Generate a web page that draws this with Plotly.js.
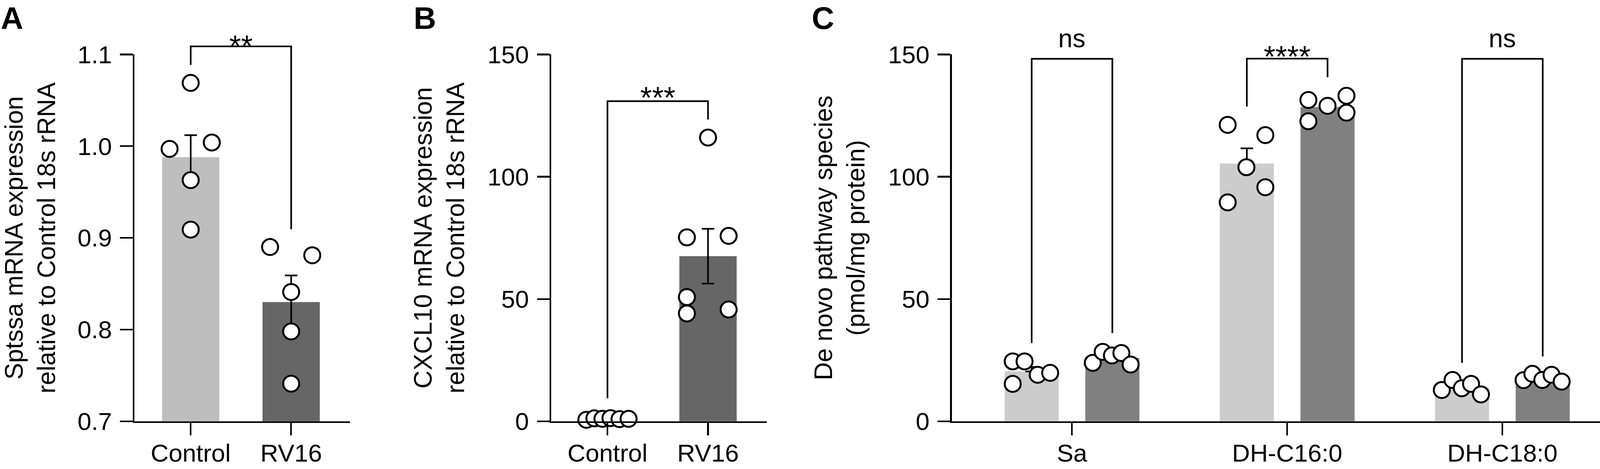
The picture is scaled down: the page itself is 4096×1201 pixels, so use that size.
<!DOCTYPE html>
<html>
<head>
<meta charset="utf-8">
<script src="https://cdn.plot.ly/plotly-3.0.1.min.js"></script>
<style>
  html, body { margin: 0; padding: 0; background: #ffffff; }
  #chart { width: 4096px; height: 1201px; }
</style>
</head>
<body>
<div id="chart"></div>
<script>
// ===================== DATA =====================
// Panel A
const catsA = ['Control', 'RV16'];
const meansA = [0.988, 0.830];
const semsA = [0.024, 0.029];
const dotsA_control = [1.069, 0.997, 1.004, 0.963, 0.909];
const dotsA_rv16 = [0.890, 0.881, 0.841, 0.798, 0.741];
const yTicksA = [0.7, 0.8, 0.9, 1.0, 1.1];
const sigA_text = '**';
const sigA_levels = [1.0886, 1.1088, 0.9094];   // left leg end, bracket, right leg end

// Panel B
const catsB = ['Control', 'RV16'];
const meansB = [1.0, 67.5];
const semsB = [0.1, 11.2];
const dotsB_control = [0.6, 1.2, 1.0, 1.3, 0.9, 1.0];
const dotsB_rv16 = [75.2, 50.8, 44.1, 116.0, 75.8, 45.7];
const yTicksB = [0, 50, 100, 150];
const sigB_text = '***';
const sigB_levels = [9.4, 130.9, 123.4];

// Panel C
const catsC = ['Sa', 'DH-C16:0', 'DH-C18:0'];
const meansC_control = [20.4, 105.4, 13.8];
const semsC_control = [1.8, 6.2, 1.0];
const meansC_rv16 = [25.9, 128.5, 16.5];
const semsC_rv16 = [1.1, 1.9, 0.7];
const dotsC_control = [[24.5, 24.5, 15.3, 19.0, 19.8], [121.2, 117.0, 103.9, 95.7, 89.5], [12.8, 16.9, 13.5, 15.3, 11.0]];
const dotsC_rv16 = [[23.9, 28.4, 26.9, 27.9, 23.2], [131.4, 129.0, 133.1, 122.7, 126.2], [16.8, 19.4, 16.9, 19.0, 16.2]];
const yTicksC = [0, 50, 100, 150];
const sigC_text = ['ns', '****', 'ns'];
const sigC_left = [32.0, 128.7, 23.9];
const sigC_top = [148.2, 148.3, 148.2];
const sigC_right = [36.1, 140.7, 26.5];

// Axis titles
const titleA = 'Sptssa mRNA expression<br>relative to Control 18s rRNA';
const titleB = 'CXCL10 mRNA expression<br>relative to Control 18s rRNA';
const titleC = 'De novo pathway species<br>(pmol/mg protein)';

// ===================== STYLE / GEOMETRY =====================
const S = 0.975, W = 4096, H = 1201;
const LW = 4.2;
const FONT = 'Liberation Sans, Arial, Helvetica, sans-serif';
const TICKFONT = 63.5, TITLEFONT = 64;
const LIGHT_AB = '#bebebe', DARK_AB = '#666666';
const LIGHT_C = '#cccccc', DARK_C = '#808080';

// dot spread within each column (category units)
const jitA_control = [0, -0.21, 0.21, 0, 0];
const jitA_rv16 = [-0.21, 0.21, 0, 0, 0];
const jitB_control = [-0.21, -0.13, -0.05, 0.03, 0.12, 0.21];
const jitB_rv16 = [-0.21, -0.21, -0.21, 0, 0.205, 0.205];
const jitC_control = [[-0.088, -0.033, -0.088, 0.028, 0.086], [-0.089, 0.086, -0.002, 0.086, -0.089], [-0.094, -0.044, -0.001, 0.042, 0.088]];
const jitC_rv16 = [[-0.091, -0.045, -0.002, 0.042, 0.085], [-0.089, 0, 0.088, -0.089, 0.088], [-0.089, -0.048, -0.002, 0.041, 0.088]];
const groupShiftC = 0.1875, barWidthC = 0.2513, barWidthAB = 0.57;

// vertical extent of plot areas (page px)
const yTopPx = 143 * S, yBotPx = 1107.5 * S - 1;
const d0 = (H - yBotPx) / H, d1 = (H - yTopPx) / H;

// horizontal geometry in reference px: left edge, right edge, first category centre, category spacing
const geo = {
  A: {L: 350.5 + 2 / S, R: 919, c0: 500.7, u: 263.8},
  B: {L: 1445.2 + 2 / S, R: 2013.6, c0: 1595, u: 264},
  C: {L: 2497 + 2 / S, R: W / S, c0: 2814.7, u: 565}
};
function xdom(g) { return [g.L * S / W, Math.min(1, g.R * S / W)]; }
function xrng(g) { return [(g.L - g.c0) / g.u, (g.R - g.c0) / g.u]; }
function extRange(lo, hi) { return [lo, lo + (hi - lo) * (1 - d0) / (d1 - d0)]; }

const idx = arr => arr.map((_, i) => i);
const dotMarker = {symbol: 'circle', size: 41, color: '#ffffff', line: {color: '#000000', width: 5}};
const errStyle = {color: '#000000', thickness: LW, width: 16};
const bracketLine = {color: '#000000', width: LW};

const traces = [];

// ---------- Panel A ----------
traces.push({type: 'bar', x: idx(catsA), y: meansA, width: barWidthAB, xaxis: 'x', yaxis: 'y',
  marker: {color: [LIGHT_AB, DARK_AB], line: {width: 0}},
  error_y: Object.assign({type: 'data', array: semsA, visible: true}, errStyle), hoverinfo: 'skip'});
traces.push({type: 'scatter', mode: 'markers', xaxis: 'x', yaxis: 'y', cliponaxis: false,
  x: dotsA_control.map((_, i) => 0 + jitA_control[i]), y: dotsA_control, marker: dotMarker});
traces.push({type: 'scatter', mode: 'markers', xaxis: 'x', yaxis: 'y', cliponaxis: false,
  x: dotsA_rv16.map((_, i) => 1 + jitA_rv16[i]), y: dotsA_rv16, marker: dotMarker});
traces.push({type: 'scatter', mode: 'lines', xaxis: 'x', yaxis: 'y4', x: [0, 0, 1, 1],
  y: [sigA_levels[0], sigA_levels[1], sigA_levels[1], sigA_levels[2]], line: bracketLine, hoverinfo: 'skip'});

// ---------- Panel B ----------
traces.push({type: 'bar', x: idx(catsB), y: meansB, width: barWidthAB, xaxis: 'x2', yaxis: 'y2',
  marker: {color: [LIGHT_AB, DARK_AB], line: {width: 0}},
  error_y: Object.assign({type: 'data', array: semsB, visible: true}, errStyle), hoverinfo: 'skip'});
traces.push({type: 'scatter', mode: 'markers', xaxis: 'x2', yaxis: 'y2', cliponaxis: false,
  x: dotsB_control.map((_, i) => 0 + jitB_control[i]), y: dotsB_control, marker: dotMarker});
traces.push({type: 'scatter', mode: 'markers', xaxis: 'x2', yaxis: 'y2', cliponaxis: false,
  x: dotsB_rv16.map((_, i) => 1 + jitB_rv16[i]), y: dotsB_rv16, marker: dotMarker});
traces.push({type: 'scatter', mode: 'lines', xaxis: 'x2', yaxis: 'y5', x: [0, 0, 1, 1],
  y: [sigB_levels[0], sigB_levels[1], sigB_levels[1], sigB_levels[2]], line: bracketLine, hoverinfo: 'skip'});

// ---------- Panel C ----------
traces.push({type: 'bar', x: idx(catsC), y: meansC_control, width: barWidthC, offset: -groupShiftC - barWidthC / 2,
  xaxis: 'x3', yaxis: 'y3', marker: {color: LIGHT_C, line: {width: 0}},
  error_y: Object.assign({type: 'data', symmetric: false, array: semsC_control, arrayminus: semsC_control.map(() => 0)}, errStyle),
  hoverinfo: 'skip'});
traces.push({type: 'bar', x: idx(catsC), y: meansC_rv16, width: barWidthC, offset: groupShiftC - barWidthC / 2,
  xaxis: 'x3', yaxis: 'y3', marker: {color: DARK_C, line: {width: 0}},
  error_y: Object.assign({type: 'data', symmetric: false, array: semsC_rv16, arrayminus: semsC_rv16.map(() => 0)}, errStyle),
  hoverinfo: 'skip'});
catsC.forEach((c, g) => {
  traces.push({type: 'scatter', mode: 'markers', xaxis: 'x3', yaxis: 'y3', cliponaxis: false,
    x: dotsC_control[g].map((_, i) => g - groupShiftC + jitC_control[g][i]), y: dotsC_control[g], marker: dotMarker});
  traces.push({type: 'scatter', mode: 'markers', xaxis: 'x3', yaxis: 'y3', cliponaxis: false,
    x: dotsC_rv16[g].map((_, i) => g + groupShiftC + jitC_rv16[g][i]), y: dotsC_rv16[g], marker: dotMarker});
  traces.push({type: 'scatter', mode: 'lines', xaxis: 'x3', yaxis: 'y6',
    x: [g - groupShiftC, g - groupShiftC, g + groupShiftC, g + groupShiftC],
    y: [sigC_left[g], sigC_top[g], sigC_top[g], sigC_right[g]], line: bracketLine, hoverinfo: 'skip'});
});

// ---------- axes ----------
const tickFont = {family: FONT, size: TICKFONT, color: '#000000'};
function xAxis(g, cats, anchor) {
  return {domain: xdom(g), range: xrng(g), anchor: anchor, tickmode: 'array', tickvals: idx(cats), ticktext: cats,
    ticks: 'outside', ticklen: 33 * S, tickwidth: LW, tickcolor: '#000', showline: true, linewidth: LW,
    linecolor: '#000', showgrid: false, zeroline: false, tickfont: tickFont, ticklabelstandoff: -9, fixedrange: true};
}
function yAxis(range, ticks, fmt, title, anchor) {
  return {domain: [d0, d1], range: range, anchor: anchor, tickmode: 'array', tickvals: ticks,
    ticktext: ticks.map(v => fmt ? v.toFixed(1) : String(v)),
    ticks: 'outside', ticklen: 33 * S, tickwidth: LW, tickcolor: '#000', showline: true, linewidth: LW,
    linecolor: '#000', showgrid: false, zeroline: false, tickfont: tickFont, ticklabelstandoff: 8,
    title: {text: title, font: {family: FONT, size: TITLEFONT, color: '#000'}, standoff: 40}, fixedrange: true};
}
function hiddenY(range, anchor) {
  return {domain: [d0, 1], range: extRange(range[0], range[1]), anchor: anchor, visible: false, fixedrange: true};
}

// ---------- annotations ----------
const annotations = [];
function sigLabel(text, xc, y, xref, yref, size, yshift) {
  annotations.push({text: text, x: xc, y: y, xref: xref, yref: yref, xanchor: 'center', yanchor: 'bottom',
    yshift: yshift, showarrow: false, font: {family: FONT, size: size, color: '#000'}});
}
sigLabel(sigA_text, 0.5, sigA_levels[1], 'x', 'y4', 77, -44);
sigLabel(sigB_text, 0.5, sigB_levels[1], 'x2', 'y5', 77, -36);
sigC_text.forEach((t, g) => {
  const isStar = t.indexOf('*') >= 0;
  sigLabel(t, g, sigC_top[g], 'x3', 'y6', isStar ? 77 : 66, isStar ? -40 : 14);
});
const panelLetters = [['A', 0], ['B', 1057], ['C', 2076]];
panelLetters.forEach(([t, xpx]) => {
  annotations.push({text: t, x: xpx / W, y: (H - 93) / H, xref: 'paper', yref: 'paper', xanchor: 'left',
    yanchor: 'bottom', showarrow: false, font: {family: FONT, size: 79.5, color: '#000', weight: 700}});
});

const layout = {
  width: W, height: H, margin: {l: 0, r: 0, t: 0, b: 0, pad: 0},
  paper_bgcolor: '#ffffff', plot_bgcolor: 'rgba(0,0,0,0)', showlegend: false, barmode: 'overlay',
  font: {family: FONT, color: '#000'},
  xaxis: xAxis(geo.A, catsA, 'y'),
  yaxis: yAxis([0.7, 1.1], yTicksA, true, titleA, 'x'),
  xaxis2: xAxis(geo.B, catsB, 'y2'),
  yaxis2: yAxis([0, 150], yTicksB, false, titleB, 'x2'),
  xaxis3: xAxis(geo.C, catsC, 'y3'),
  yaxis3: yAxis([0, 150], yTicksC, false, titleC, 'x3'),
  yaxis4: hiddenY([0.7, 1.1], 'x'),
  yaxis5: hiddenY([0, 150], 'x2'),
  yaxis6: hiddenY([0, 150], 'x3'),
  annotations: annotations
};

Plotly.newPlot('chart', traces, layout, {staticPlot: true, displayModeBar: false});
</script>
</body>
</html>
